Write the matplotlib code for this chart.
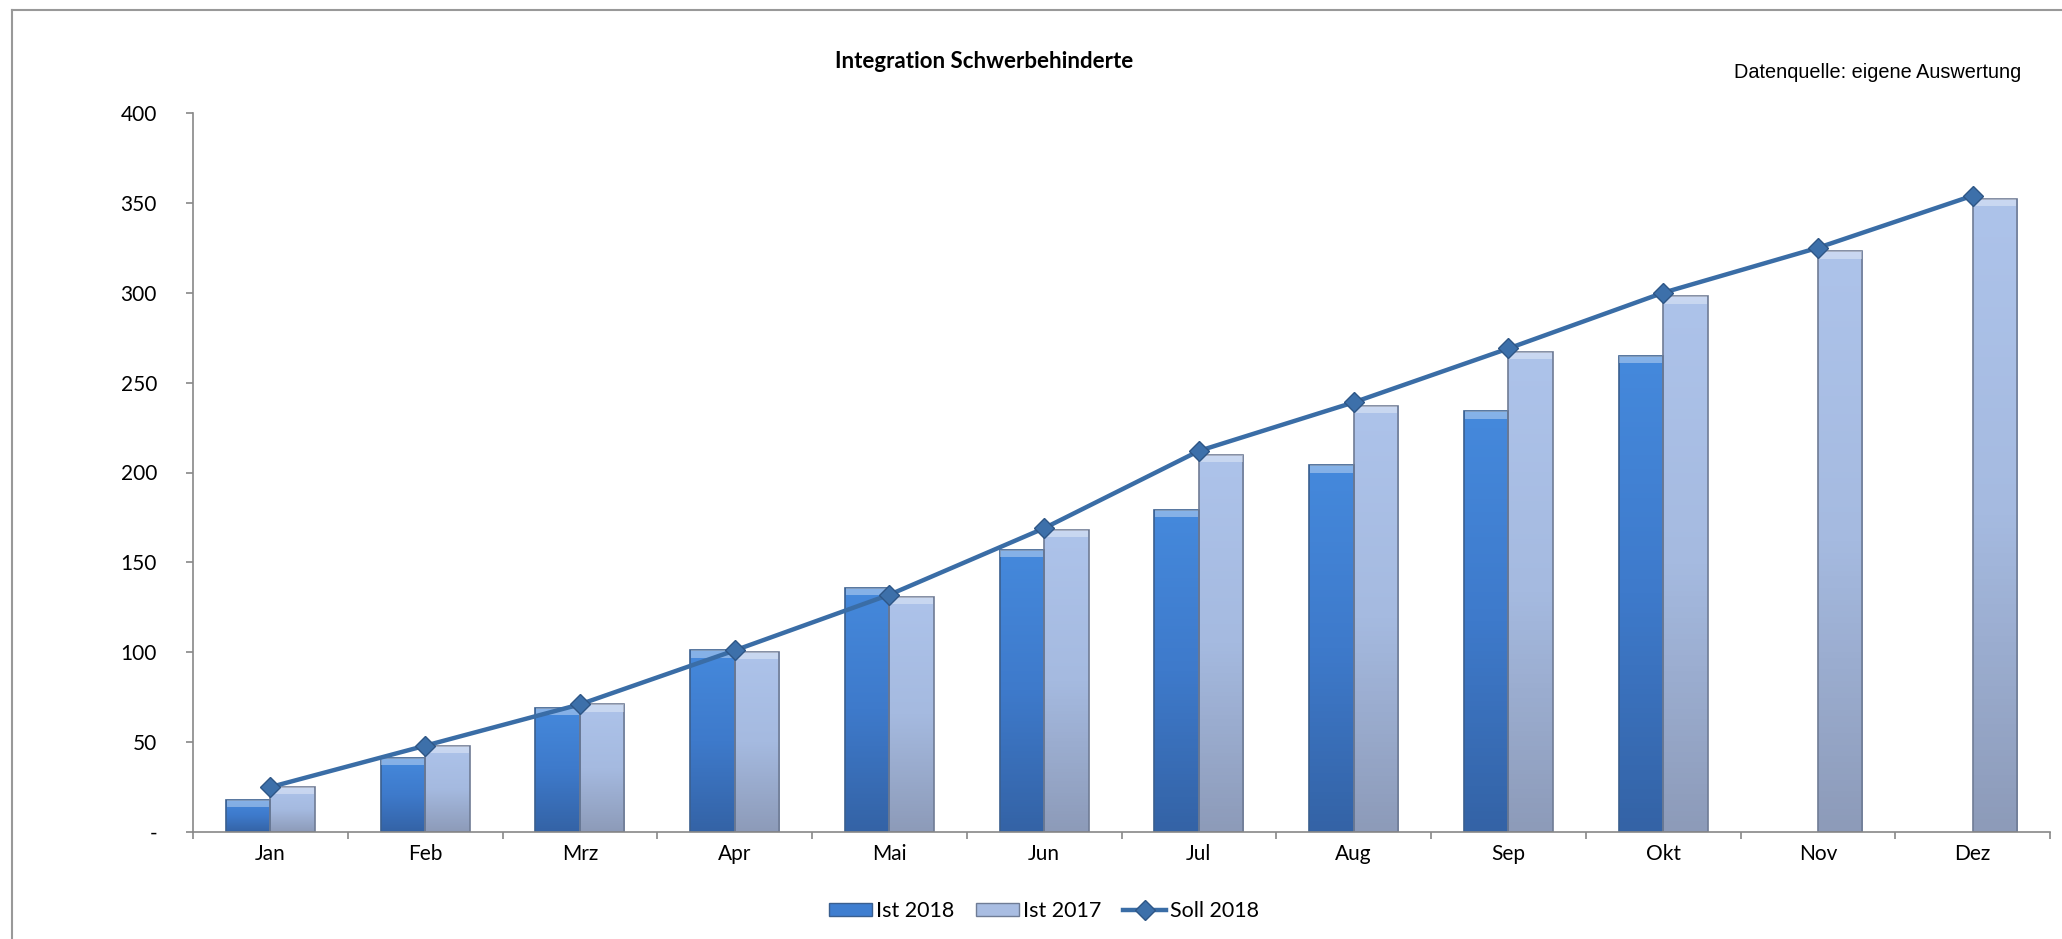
"""Integration Schwerbehinderte - Ist/Soll Vergleich"""
import matplotlib; matplotlib.use('Agg')
import matplotlib.pyplot as plt; import numpy as np
from matplotlib.patches import Patch
from matplotlib.lines import Line2D
from matplotlib.colors import LinearSegmentedColormap

plt.rcParams['font.family'] = ['Lato', 'DejaVu Sans']

monate = ['Jan', 'Feb', 'Mrz', 'Apr', 'Mai', 'Jun', 'Jul', 'Aug', 'Sep', 'Okt', 'Nov', 'Dez']
ist_2018 = [18, 41, 69, 101, 136, 157, 179, 204, 234, 265]
ist_2017 = [25, 48, 71, 100, 131, 168, 210, 237, 267, 298, 323, 352]
soll_2018 = [25, 48, 71, 101, 132, 169, 212, 239, 269, 300, 325, 354]
y_ticks = [0, 50, 100, 150, 200, 250, 300, 350, 400]
y_labels = ['-', '50', '100', '150', '200', '250', '300', '350', '400']

fig = plt.figure(figsize=(20.62, 9.39), dpi=100)
ax = fig.add_axes([193/2062, 1-832/939, (2050-193)/2062, (832-113)/939])

w = 0.288
cm18 = LinearSegmentedColormap.from_list('c18', ['#4589DC', '#3E7ACB', '#3463A6'])
cm17 = LinearSegmentedColormap.from_list('c17', ['#ADC3EA', '#A5BAE0', '#8D9BB9'])
grad = np.linspace(0, 1, 100).reshape(-1, 1)

def draw_bars(xs, vals, cmap, edge):
    bars = ax.bar(xs, vals, width=w, color='none', edgecolor=edge, linewidth=1.2, zorder=2)
    for b in bars:
        x0, h = b.get_x(), b.get_height()
        im = ax.imshow(grad, extent=[x0, x0+w, 0, h], aspect='auto', cmap=cmap, zorder=1.5, origin='upper')
        im.set_clip_path(b)
    # heller Rand oben (Bevel)
    ax.bar(xs, [4]*len(vals), bottom=[v-4 for v in vals], width=w*0.96, color='white', alpha=0.35, linewidth=0, zorder=2.1)

x = np.arange(len(monate))
draw_bars(x[:len(ist_2018)] - w/2, ist_2018, cm18, '#3A5F8F')
draw_bars(x + w/2, ist_2017, cm17, '#6F7C95')
ax.plot(x, soll_2018, color='#3A6DA6', lw=3.2, marker='D', ms=10, mfc='#3D70AA', mec='#2E5686', mew=1.0, zorder=4)

ax.set_xlim(-0.5, 11.5); ax.set_ylim(0, 400)
ax.set_yticks(y_ticks); ax.set_yticklabels(y_labels, fontsize=15)
ax.set_xticks(np.arange(-0.5, 12, 1)); ax.set_xticklabels([])
ax.set_xticks(x, minor=True); ax.set_xticklabels(monate, minor=True, fontsize=15)
ax.tick_params(axis='x', which='major', length=5, color='#888888', width=1.2)
ax.tick_params(axis='x', which='minor', length=0, pad=9)
ax.tick_params(axis='y', length=5, color='#888888', width=1.2, pad=21)
for s in ['top', 'right']: ax.spines[s].set_visible(False)
for s in ['left', 'bottom']: ax.spines[s].set_color('#888888'); ax.spines[s].set_linewidth(1.2)

fig.text(984/2062, 1-62/939, 'Integration Schwerbehinderte', ha='center', va='center', fontsize=16, fontweight='bold')
fig.text(2021/2062, 1-72/939, 'Datenquelle: eigene Auswertung', ha='right', va='center', fontsize=14.3, family='Liberation Sans')

# Rahmen
fig.add_artist(Line2D([12/2062, 12/2062], [0, 1-10/939], color='#999999', lw=1.5))
fig.add_artist(Line2D([12/2062, 1], [1-10/939, 1-10/939], color='#999999', lw=1.5))

handles = [Patch(facecolor='#3F7ED0', edgecolor='#3A5F8F', label='Ist 2018'),
           Patch(facecolor='#A9BDE2', edgecolor='#6F7C95', label='Ist 2017'),
           Line2D([], [], color='#3A6DA6', lw=3.2, marker='D', ms=10, mfc='#3D70AA', mec='#2E5686', label='Soll 2018')]
fig.legend(handles=handles, loc='center', bbox_to_anchor=(1044/2062, 1-911/939), ncol=3, frameon=False,
           fontsize=15.5, handlelength=2.0, handleheight=0.6, handletextpad=0.2, columnspacing=1.0)

fig.savefig('out.png', dpi=100)
